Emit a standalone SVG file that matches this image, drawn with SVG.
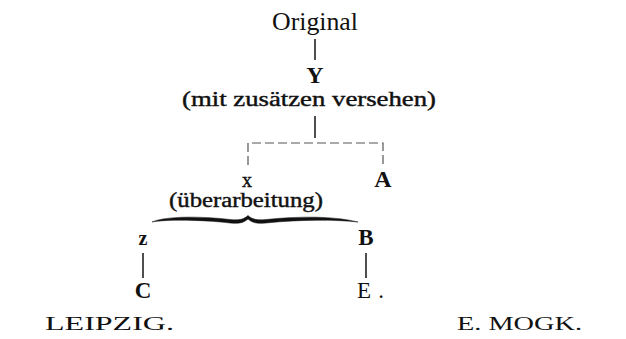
<svg xmlns="http://www.w3.org/2000/svg" width="626" height="339" viewBox="0 0 626 339">
<style>
.t{font-family:"Liberation Serif","Times New Roman",serif;fill:#111}
.b{font-weight:bold}
.ln{stroke:#222;stroke-width:1.6;fill:none}
.ds{stroke:#555;stroke-width:1.2;fill:none;stroke-dasharray:9 4}
</style>
<rect width="626" height="339" fill="#fff"/>
<g id="connectors">
<line class="ln" x1="315" y1="39" x2="315" y2="60"/>
<line class="ln" x1="315" y1="116" x2="315" y2="138"/>
<polyline class="ds" points="248,165 248,143 383,143 383,166"/>
<line class="ln" x1="143" y1="253" x2="143" y2="278"/>
<line class="ln" x1="366" y1="253" x2="366" y2="278"/>
<path d="M152,222 C165,216 200,216 230,219.5 C240,220.5 244,219 248,215.5 C252,219 256,220.5 266,219.5 C300,216 335,216 358,222 C335,219.5 300,219.5 266,223 C256,224 252,222.5 248,219 C244,222.5 240,224 230,223 C200,219.5 165,219.5 152,222 Z" fill="#111" stroke="#111" stroke-width="0.5"/>
</g>
<g id="original"><text class="t" x="315" y="30" font-size="25" text-anchor="middle" textLength="86" lengthAdjust="spacingAndGlyphs">Original</text></g>
<g id="Y"><text class="t b" x="315" y="83" font-size="24" text-anchor="middle">Y</text></g>
<g id="Y-note"><text class="t" x="309" y="106" font-size="20" text-anchor="middle" textLength="254" lengthAdjust="spacingAndGlyphs" stroke="#111" stroke-width="0.4">(mit zusätzen versehen)</text></g>
<g id="x"><text class="t" x="247" y="187" font-size="20" text-anchor="middle" stroke="#111" stroke-width="0.4">x</text></g>
<g id="A"><text class="t b" x="383" y="187" font-size="24" text-anchor="middle">A</text></g>
<g id="x-note"><text class="t" x="246" y="207" font-size="20" text-anchor="middle" textLength="154" lengthAdjust="spacingAndGlyphs" stroke="#111" stroke-width="0.4">(überarbeitung)</text></g>
<g id="z"><text class="t b" x="143" y="245" font-size="20" text-anchor="middle">z</text></g>
<g id="B"><text class="t b" x="366" y="245" font-size="23" text-anchor="middle">B</text></g>
<g id="C"><text class="t b" x="143" y="298" font-size="23" text-anchor="middle">C</text></g>
<g id="E"><text class="t" x="357" y="298" font-size="23" textLength="27" lengthAdjust="spacing">E.</text></g>
<text class="t" x="45" y="330" font-size="19" textLength="129" lengthAdjust="spacingAndGlyphs">LEIPZIG.</text>
<text class="t" x="457" y="330" font-size="19" textLength="125" lengthAdjust="spacingAndGlyphs">E. MOGK.</text>
</svg>
